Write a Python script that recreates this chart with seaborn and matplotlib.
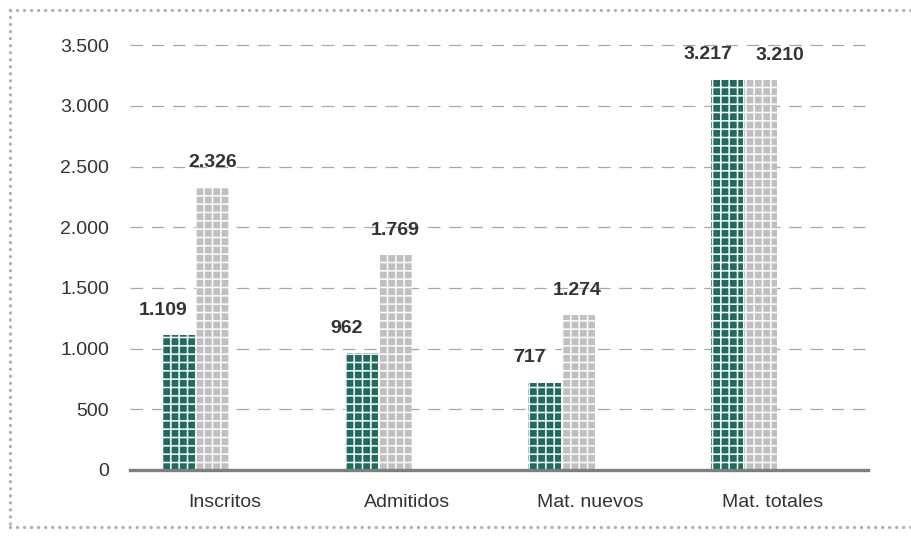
import pandas as pd
import matplotlib.pyplot as plt
import matplotlib.transforms as mtransforms
from matplotlib.lines import Line2D
import seaborn as sns

# ============================================
# DATA
# ============================================
categorias = ["Inscritos", "Admitidos", "Mat. nuevos", "Mat. totales"]
serie_1 = [1109, 962, 717, 3217]
serie_2 = [2326, 1769, 1274, 3210]
yticks = [0, 500, 1000, 1500, 2000, 2500, 3000, 3500]

df = pd.DataFrame({
    "categoria": categorias * 2,
    "serie": ["serie_1"] * 4 + ["serie_2"] * 4,
    "valor": serie_1 + serie_2,
})

def fmt_miles(v):
    return f"{v:,.0f}".replace(",", ".")

# ============================================
# STYLE
# ============================================
sns.set_style("white")
plt.rcParams["font.family"] = ["Liberation Sans", "DejaVu Sans"]
plt.rcParams["hatch.linewidth"] = 1.1

verde = "#1f6b5e"
gris = "#c0c0c2"
texto = "#333333"

fig = plt.figure(figsize=(9.12, 5.37), dpi=100)
ax = fig.add_axes([0.1425, 0.1248, 0.952 - 0.1425, 0.9385 - 0.1248])

sns.barplot(data=df, x="categoria", y="valor", hue="serie",
            palette=[verde, gris], width=0.37, gap=0.03,
            legend=False, ax=ax, saturation=1)

for bar in ax.patches:
    bar.set_hatch("++")
    bar.set_edgecolor("white")
    bar.set_linewidth(0)

# value labels (green ones sit to the left, last pair spread apart)
offsets_1 = [-11, -11, -11, -14]
offsets_2 = [0, 0, -1, 14]
for i, cont in enumerate(ax.containers):
    offs = offsets_1 if i == 0 else offsets_2
    for j, bar in enumerate(cont):
        h = bar.get_height()
        ax.annotate(fmt_miles(h),
                    (bar.get_x() + bar.get_width() / 2, h),
                    xytext=(offs[j], 18), textcoords="offset points",
                    ha="center", va="center", fontsize=14,
                    fontweight="bold", color=texto)

# axes
ax.set_xlim(-0.36, 3.68)
ax.set_ylim(0, 3600)
ax.set_yticks(yticks)
ax.set_yticklabels([fmt_miles(v) for v in yticks], fontsize=14, color=texto)
ax.set_xlabel("")
ax.set_ylabel("")
ax.tick_params(axis="y", length=0, pad=15)
ax.tick_params(axis="x", length=0, pad=17, labelsize=14, labelcolor=texto)

# category labels are shifted to the right in the original
shift = mtransforms.ScaledTranslation(29 / 100, 0, fig.dpi_scale_trans)
for lbl in ax.get_xticklabels():
    lbl.set_transform(lbl.get_transform() + shift)

ax.set_axisbelow(True)
ax.yaxis.grid(True, color="#a8a8a8", linestyle=(0, (10, 7)), linewidth=0.9)
ax.xaxis.grid(False)
for s in ["top", "right", "left"]:
    ax.spines[s].set_visible(False)
ax.spines["bottom"].set_color("#7f7f7f")
ax.spines["bottom"].set_linewidth(2.4)
ax.spines["bottom"].set_zorder(5)

# dotted frame around the figure
dot = dict(color="#b0b0b0", linestyle=(0, (0.01, 2.1)), linewidth=2.4,
           dash_capstyle="round", transform=fig.transFigure)
x0, ytop, ybot = 10 / 912, 1 - 10 / 537, 1 - 527 / 537
fig.add_artist(Line2D([x0, 1.0], [ytop, ytop], **dot))
fig.add_artist(Line2D([x0, x0], [ytop, ybot], **dot))
fig.add_artist(Line2D([x0, 1.0], [ybot, ybot], **dot))

plt.savefig("out.png", dpi=100)
